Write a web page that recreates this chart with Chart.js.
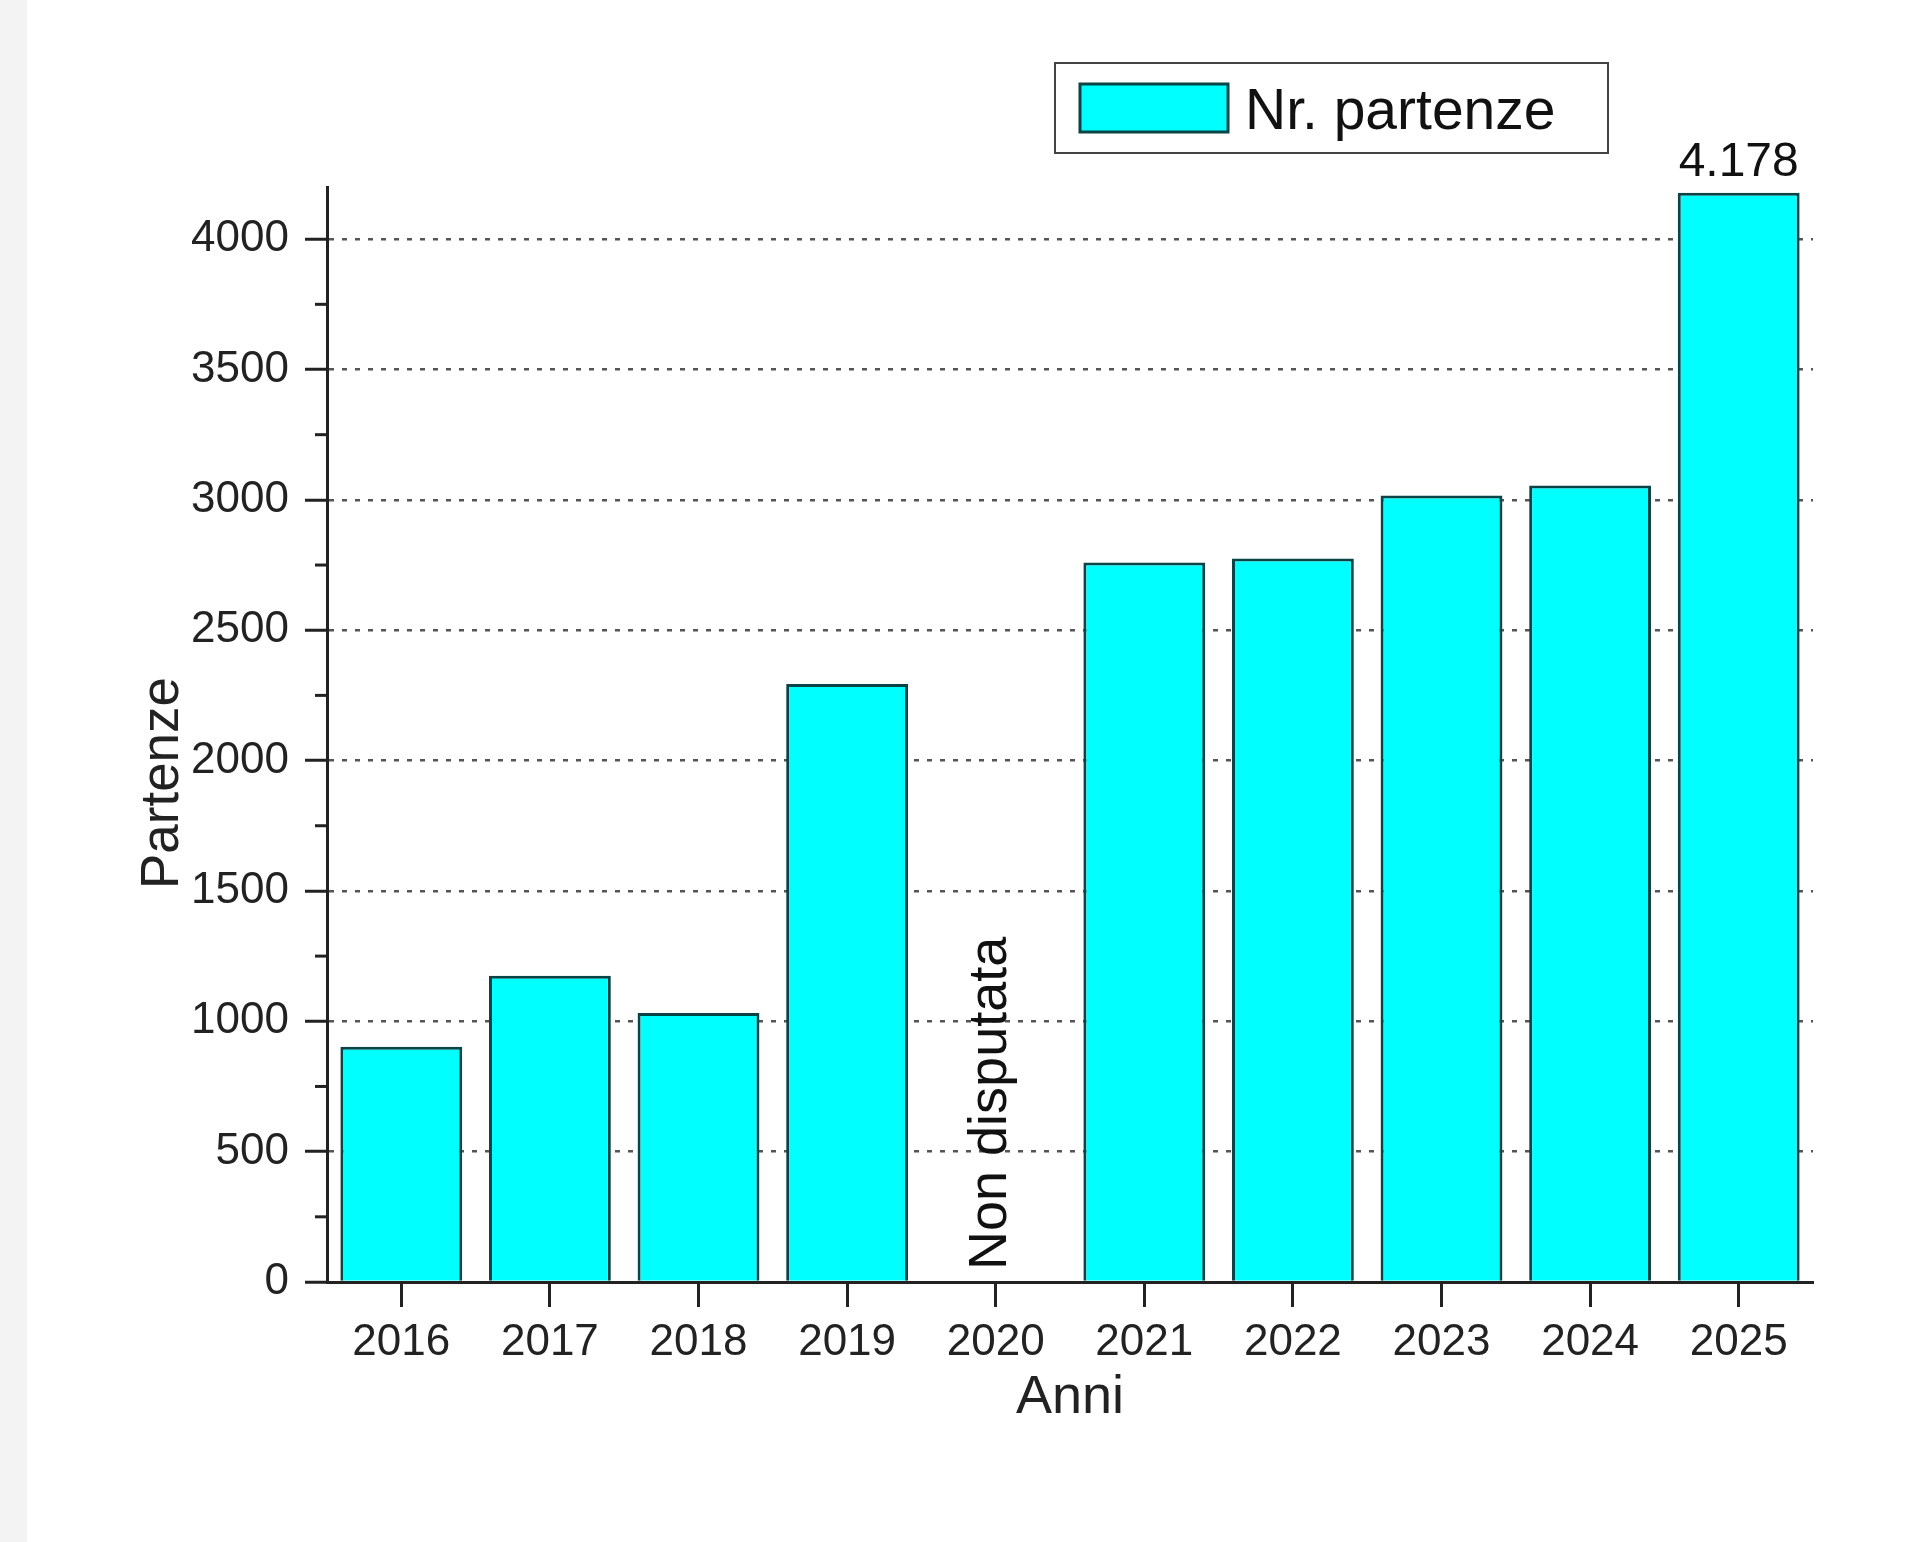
<!DOCTYPE html>
<html>
<head>
<meta charset="utf-8">
<script src="https://cdn.jsdelivr.net/npm/chart.js@4/dist/chart.umd.min.js"></script>
<style>
  html, body { margin: 0; padding: 0; }
  body { background: linear-gradient(to right, #f3f3f3 0 27px, #ffffff 27px); width: 1920px; height: 1542px; overflow: hidden; }
  canvas { display: block; }
</style>
</head>
<body>
<canvas id="graph" width="1920" height="1542"></canvas>
<script>
var years = ['2016', '2017', '2018', '2019', '2020', '2021', '2022', '2023', '2024', '2025'];
var starts = [902, 1175, 1032, 2294, null, 2760, 2775, 3017, 3055, 4178];
var yTicks = [0, 500, 1000, 1500, 2000, 2500, 3000, 3500, 4000];
var yMinorTicks = [250, 750, 1250, 1750, 2250, 2750, 3250, 3750];
var labelledYears = ['2025'];
var skippedText = 'Non disputata';
var yTitle = 'Partenze';
var yMax = 4200;

var FONT = '"Liberation Sans", Arial, sans-serif';
var INK = '#222222';

function itNumber(v) {
  return String(v).replace(/\B(?=(\d{3})+(?!\d))/g, '.');
}

// minor ticks, y title, value label, "non disputata" note and the framed legend
var extras = {
  id: 'extras',
  afterDraw: function (chart) {
    var ctx = chart.ctx;
    var xs = chart.scales.x, ys = chart.scales.y;
    var meta = chart.getDatasetMeta(0);
    var ds = chart.data.datasets[0];
    ctx.save();

    ctx.strokeStyle = INK;
    ctx.lineWidth = 3;
    yMinorTicks.forEach(function (v) {
      var py = ys.getPixelForValue(v);
      ctx.beginPath();
      ctx.moveTo(chart.chartArea.left, py);
      ctx.lineTo(chart.chartArea.left - 12, py);
      ctx.stroke();
    });

    ctx.fillStyle = INK;
    ctx.font = '53px ' + FONT;
    ctx.textAlign = 'center';
    ctx.textBaseline = 'middle';
    ctx.save();
    ctx.translate(163, 783);
    ctx.rotate(-Math.PI / 2);
    ctx.fillText(yTitle, 0, 0);
    ctx.restore();

    ctx.fillStyle = '#111';
    ctx.font = '48px ' + FONT;
    ctx.textAlign = 'center';
    ctx.textBaseline = 'alphabetic';
    years.forEach(function (yr, i) {
      if (labelledYears.indexOf(yr) >= 0 && starts[i] != null) {
        var bar = meta.data[i];
        ctx.fillText(itNumber(starts[i]), bar.x, bar.y - 17);
      }
    });

    ctx.font = '54px ' + FONT;
    ctx.textAlign = 'left';
    ctx.textBaseline = 'middle';
    years.forEach(function (yr, i) {
      if (starts[i] == null) {
        ctx.save();
        ctx.translate(xs.getPixelForValue(i) - 5, ys.getPixelForValue(0) - 12);
        ctx.rotate(-Math.PI / 2);
        ctx.fillText(skippedText, 0, 0);
        ctx.restore();
      }
    });

    // legend
    ctx.lineWidth = 2;
    ctx.strokeStyle = '#444';
    ctx.strokeRect(1055, 63, 553, 90);
    ctx.fillStyle = ds.backgroundColor;
    ctx.fillRect(1080, 84, 148, 48);
    ctx.lineWidth = 3;
    ctx.strokeStyle = ds.borderColor;
    ctx.strokeRect(1080, 84, 148, 48);
    ctx.fillStyle = '#111';
    ctx.font = '57px ' + FONT;
    ctx.textAlign = 'left';
    ctx.textBaseline = 'middle';
    ctx.fillText(ds.label, 1245, 113);

    ctx.restore();
  }
};

var graph = new Chart('graph', {
  type: 'bar',
  data: {
    labels: years,
    datasets: [{
      label: 'Nr. partenze',
      data: starts,
      backgroundColor: '#00ffff',
      borderColor: '#0b4446',
      borderWidth: 3,
      barPercentage: 0.82,
      categoryPercentage: 1
    }]
  },
  options: {
    responsive: false,
    animation: false,
    layout: { padding: { left: 0, top: 187, right: 107, bottom: 0 } },
    plugins: {
      legend: { display: false },
      tooltip: { enabled: false }
    },
    scales: {
      x: {
        afterFit: function (s) { s.height = 260; },
        grid: { offset: false, drawOnChartArea: false, drawTicks: true, tickLength: 25, tickColor: INK, tickWidth: 3 },
        border: { color: INK, width: 3 },
        ticks: { color: INK, padding: 9, autoSkip: false, font: { family: FONT, size: 44, lineHeight: 1.2 } },
        title: { display: true, text: 'Anni', color: INK, padding: { top: 0, bottom: 111 }, font: { family: FONT, size: 54, lineHeight: 1.2 } }
      },
      y: {
        min: 0,
        max: yMax,
        afterFit: function (s) { s.width = 327; },
        afterBuildTicks: function (s) {
          s.ticks = yTicks.map(function (v) { return { value: v }; });
        },
        grid: { color: '#555555', lineWidth: 2.5, tickLength: 22, tickColor: INK, tickWidth: 3 },
        border: { color: INK, width: 3, dash: [5, 8] },
        ticks: {
          color: INK, padding: 16, autoSkip: false, font: { family: FONT, size: 44 },
          callback: function (value) { return String(value); }
        }
      }
    }
  },
  plugins: [extras]
});
</script>
</body>
</html>
